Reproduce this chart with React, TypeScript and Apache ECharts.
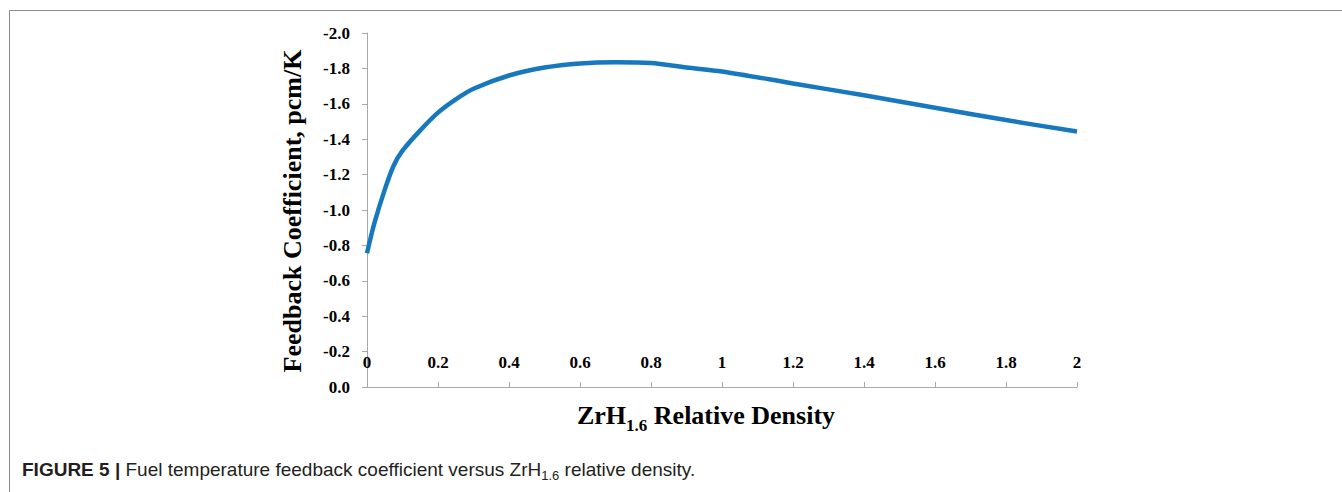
import React, { useEffect, useRef } from "react";
import * as echarts from "echarts";

const densities = [0, 0.02, 0.05, 0.075, 0.1, 0.15, 0.2, 0.25, 0.3, 0.4, 0.5, 0.6, 0.7, 0.8, 0.9, 1.0, 1.2, 1.4, 1.6, 1.8, 2.0];
const feedback = [-0.755, -0.92, -1.115, -1.25, -1.335, -1.45, -1.55, -1.625, -1.685, -1.76, -1.805, -1.828, -1.835, -1.83, -1.805, -1.783, -1.715, -1.648, -1.578, -1.508, -1.443];

const xTitleMain = "ZrH";
const xTitleSub = "1.6";
const xTitleRest = " Relative Density";
const yTitle = "Feedback Coefficient, pcm/K";
const captionBold = "FIGURE 5 | ";
const captionA = "Fuel temperature feedback coefficient versus ZrH";
const captionSub = "1.6";
const captionB = " relative density.";

const SERIF = "'Liberation Serif', 'Times New Roman', serif";
const SANS = "'Liberation Sans', Arial, sans-serif";

export default function App() {
  const ref = useRef<HTMLDivElement>(null);
  useEffect(() => {
    if (!ref.current) return;
    const chart = echarts.init(ref.current, undefined, { renderer: "svg" });
    const axisColor = "#a9a9a9";
    chart.setOption({
      animation: false,
      backgroundColor: "#ffffff",
      grid: { left: 367, right: 265, top: 33, bottom: 105, containLabel: false },
      xAxis: {
        type: "value",
        min: 0,
        max: 2,
        interval: 0.2,
        position: "bottom",
        axisLine: { onZero: false, lineStyle: { color: axisColor, width: 1 } },
        axisTick: { inside: true, length: 5, lineStyle: { color: axisColor } },
        splitLine: { show: false },
        axisLabel: {
          inside: true,
          margin: 16,
          fontFamily: SERIF,
          fontWeight: "bold",
          fontSize: 17,
          color: "#000",
          formatter: (v: number) => String(Math.round(v * 10) / 10),
        },
      },
      yAxis: {
        type: "value",
        min: -2,
        max: 0,
        interval: 0.2,
        inverse: true,
        axisLine: { onZero: false, lineStyle: { color: axisColor, width: 1 } },
        axisTick: { inside: false, length: 5, lineStyle: { color: axisColor } },
        splitLine: { show: false },
        axisLabel: {
          margin: 17,
          fontFamily: SERIF,
          fontWeight: "bold",
          fontSize: 17,
          color: "#000",
          formatter: (v: number) => (Math.abs(v) < 1e-9 ? "0.0" : v.toFixed(1)),
        },
      },
      series: [
        {
          type: "line",
          data: densities.map((d, i) => [d, feedback[i]]),
          smooth: 0.3,
          showSymbol: false,
          lineStyle: { color: "#1878be", width: 4.5 },
          itemStyle: { color: "#1878be" },
        },
      ],
      graphic: [
        {
          type: "line",
          shape: { x1: 9.5, y1: 10.5, x2: 1342, y2: 10.5 },
          style: { stroke: "#8c8c8c", lineWidth: 1 },
        },
        {
          type: "line",
          shape: { x1: 9.5, y1: 10.5, x2: 9.5, y2: 492 },
          style: { stroke: "#8c8c8c", lineWidth: 1 },
        },
        {
          type: "text",
          x: 292,
          y: 211,
          rotation: Math.PI / 2,
          style: {
            text: yTitle,
            fontFamily: SERIF,
            fontWeight: "bold",
            fontSize: 26,
            fill: "#000",
            align: "center",
            verticalAlign: "middle",
          },
        },
        {
          type: "text",
          x: 706,
          y: 418,
          style: {
            text: `{m|${xTitleMain}}{s|${xTitleSub}}{m|${xTitleRest}}`,
            align: "center",
            verticalAlign: "middle",
            rich: {
              m: { fontFamily: SERIF, fontWeight: "bold", fontSize: 26, fill: "#000", lineHeight: 30, padding: [0, 0, 6, 0] },
              s: { fontFamily: SERIF, fontWeight: "bold", fontSize: 17, fill: "#000", lineHeight: 20, padding: [14, 0, 0, 0] },
            },
          },
        },
        {
          type: "text",
          x: 22,
          y: 471,
          style: {
            text: `{b|${captionBold}}{n|${captionA}}{s|${captionSub}}{n|${captionB}}`,
            align: "left",
            verticalAlign: "middle",
            rich: {
              b: { fontFamily: SANS, fontWeight: "bold", fontSize: 19, fill: "#231f20", lineHeight: 21, padding: [0, 0, 3, 0] },
              n: { fontFamily: SANS, fontSize: 19, fill: "#231f20", lineHeight: 21, padding: [0, 0, 3, 0] },
              s: { fontFamily: SANS, fontSize: 13, fill: "#231f20", lineHeight: 15, padding: [9, 0, 0, 0] },
            },
          },
        },
      ],
    });
    return () => chart.dispose();
  }, []);
  return <div ref={ref} style={{ position: "fixed", left: 0, top: 0, width: 1342, height: 492 }} />;
}
